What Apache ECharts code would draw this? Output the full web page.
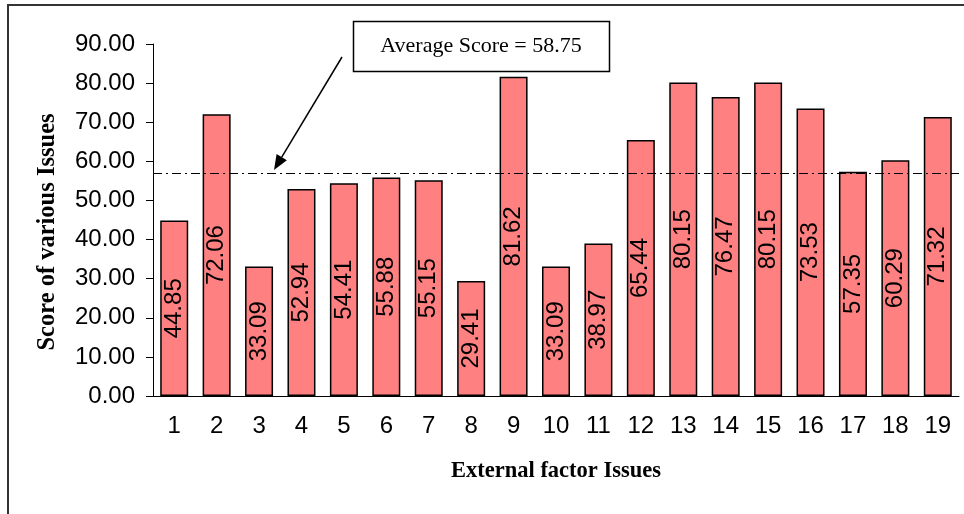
<!DOCTYPE html>
<html>
<head>
<meta charset="utf-8">
<script src="https://cdn.jsdelivr.net/npm/echarts@6/dist/echarts.min.js"></script>
<style>
  html, body { margin: 0; padding: 0; background: #fff; }
  #chart { width: 964px; height: 514px; }
</style>
</head>
<body>
<div id="chart"></div>
<script>
// data
var issues = ['1', '2', '3', '4', '5', '6', '7', '8', '9', '10',
              '11', '12', '13', '14', '15', '16', '17', '18', '19'];
var scores = [44.85, 72.06, 33.09, 52.94, 54.41, 55.88, 55.15, 29.41, 81.62, 33.09,
              38.97, 65.44, 80.15, 76.47, 80.15, 73.53, 57.35, 60.29, 71.32];
var avgLineValue = 57.0;          // where the dash-dot line sits
var avgText = 'Average Score = 58.75';

var myChart = echarts.init(document.getElementById('chart'));

// arrow from the note box down to the line
var tail = [342, 57], tip = [274, 170];
var dx = tip[0] - tail[0], dy = tip[1] - tail[1];
var len = Math.sqrt(dx * dx + dy * dy);
var ux = dx / len, uy = dy / len;
var bx = tip[0] - 15 * ux, by = tip[1] - 15 * uy;
var nx = -uy, ny = ux;

var option = {
    backgroundColor: '#fff',
    animation: false,
    grid: { left: 153, right: 5, top: 44, bottom: 118 },
    xAxis: {
        type: 'category',
        data: issues,
        name: 'External factor Issues',
        nameLocation: 'middle',
        nameGap: 64,
        nameTextStyle: { fontFamily: 'Liberation Serif', fontWeight: 'bold', fontSize: 22.5, color: '#000' },
        axisLine: { lineStyle: { color: '#000', width: 1 } },
        axisTick: { length: 7, lineStyle: { color: '#000' } },
        axisLabel: { margin: 18, fontFamily: 'Liberation Sans', fontSize: 24, color: '#000', interval: 0 }
    },
    yAxis: {
        type: 'value',
        min: 0,
        max: 90,
        interval: 10,
        splitLine: { show: false },
        axisLine: { show: true, lineStyle: { color: '#000', width: 1 } },
        axisTick: { show: true, length: 7, lineStyle: { color: '#000' } },
        axisLabel: {
            margin: 18,
            fontFamily: 'Liberation Sans',
            fontSize: 24,
            color: '#000',
            formatter: function (v) { return v.toFixed(2); }
        }
    },
    series: [{
        type: 'bar',
        data: scores,
        barCategoryGap: '34%',
        itemStyle: { color: '#FF8080', borderColor: '#000', borderWidth: 1.5 },
        label: {
            show: true,
            position: 'inside',
            rotate: 90,
            align: 'center',
            verticalAlign: 'middle',
            fontFamily: 'Liberation Sans',
            fontSize: 24,
            color: '#000',
            formatter: function (p) { return p.value.toFixed(2); }
        },
        markLine: {
            silent: true,
            symbol: 'none',
            label: { show: false },
            lineStyle: { color: '#000', width: 1, type: [9, 4, 2, 4] },
            data: [{ yAxis: avgLineValue }]
        }
    }],
    graphic: [
        // outer frame
        {
            type: 'rect',
            shape: { x: 8, y: 5, width: 1000, height: 600 },
            style: { fill: 'none', stroke: '#333', lineWidth: 2 }
        },
        // y axis title
        {
            type: 'text',
            x: 48, y: 232,
            rotation: Math.PI / 2,
            style: {
                text: 'Score of various Issues',
                fontFamily: 'Liberation Serif',
                fontWeight: 'bold',
                fontSize: 24.5,
                fill: '#000',
                align: 'center',
                verticalAlign: 'middle'
            }
        },
        // note box
        {
            type: 'rect',
            shape: { x: 353.5, y: 21.5, width: 256, height: 50 },
            style: { fill: '#fff', stroke: '#000', lineWidth: 1.5 }
        },
        {
            type: 'text',
            x: 481, y: 46,
            style: {
                text: avgText,
                fontFamily: 'Liberation Serif',
                fontSize: 22,
                fill: '#000',
                align: 'center',
                verticalAlign: 'middle'
            }
        },
        // arrow
        {
            type: 'line',
            shape: { x1: tail[0], y1: tail[1], x2: bx, y2: by },
            style: { stroke: '#000', lineWidth: 1.5 }
        },
        {
            type: 'polygon',
            shape: { points: [tip, [bx + 6 * nx, by + 6 * ny], [bx - 6 * nx, by - 6 * ny]] },
            style: { fill: '#000' }
        }
    ]
};

myChart.setOption(option);
</script>
</body>
</html>
